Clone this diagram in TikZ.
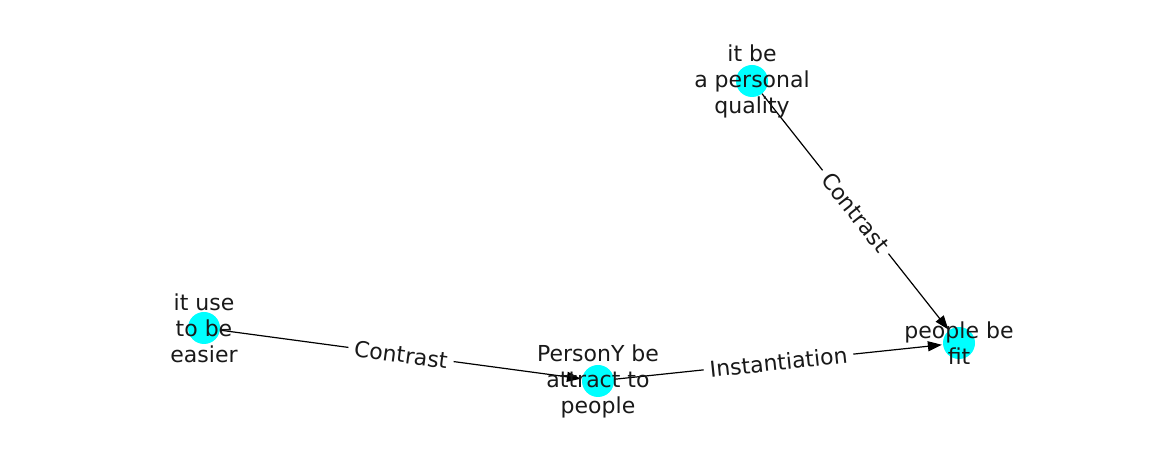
\documentclass[tikz,border=0pt]{standalone}
\usepackage{fontspec}
\setmainfont{DejaVu Sans}
\usetikzlibrary{arrows.meta}
\definecolor{aqua}{RGB}{0,255,255}
\begin{document}
\begin{tikzpicture}[x=1pt,y=1pt,
  vertex/.style={circle,fill=aqua,minimum size=32pt,inner sep=0pt},
  lbl/.style={align=center,font=\fontsize{22}{26}\selectfont,text=black!90},
  edge/.style={-{Triangle[length=14pt,width=10pt]},line width=1.2pt,shorten >=1pt},
  elabel/.style={fill=white,inner xsep=6pt,inner ysep=2pt,sloped,font=\fontsize{22}{26}\selectfont,text=black!90}
]
\useasboundingbox (0,0) rectangle (1162,462);
\node[vertex] (a) at (752,381) {};
\node[vertex] (b) at (959,119) {};
\node[vertex] (c) at (204,134) {};
\node[vertex] (d) at (598,81) {};
\draw[edge] (a) -- node[elabel] {Contrast} (b);
\draw[edge] (c) -- node[elabel] {Contrast} (d);
\draw[edge] (d) -- node[elabel] {Instantiation} (b);
\node[lbl] (ta) at (a) {it be\\a personal\\quality};
\node[lbl] (tb) at (b) {people be\\fit};
\node[lbl] (tc) at (c) {it use\\to be\\easier};
\node[lbl] (td) at (d) {PersonY be\\attract to\\people};
\end{tikzpicture}
\end{document}
